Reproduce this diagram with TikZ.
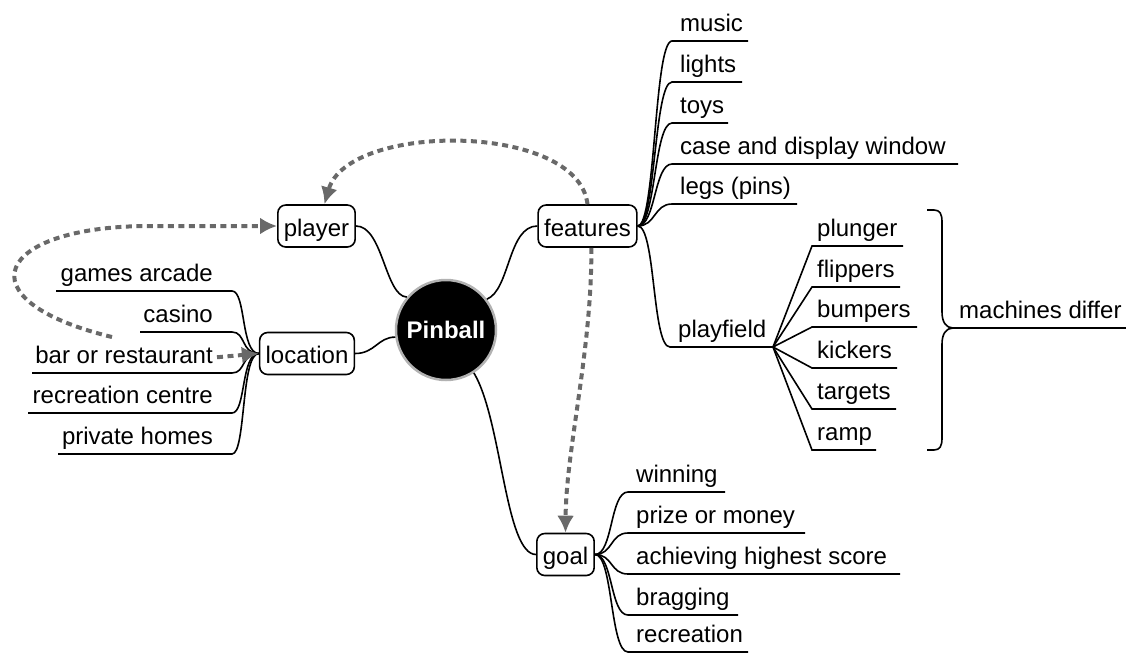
\documentclass[tikz,border=0pt]{standalone}
\usepackage{fontspec}
\setmainfont{Liberation Sans}
\usetikzlibrary{calc,arrows.meta}

\definecolor{linkgray}{RGB}{105,105,105}

\tikzset{
  branch/.style={draw=black, line width=1.6pt},
  topic/.style={draw=black, line width=1.6pt, rounded corners=8pt, fill=white,
    inner xsep=6pt, inner ysep=0pt, text height=20pt, text depth=0pt,
    minimum height=42pt, font=\fontsize{24}{28}\selectfont},
  leaf/.style={inner sep=0pt, text height=17.5pt, text depth=5pt,
    font=\fontsize{24}{28}\selectfont},
  link/.style={draw=linkgray, line width=4pt, dash pattern=on 6pt off 4.5pt,
    -{Latex[length=17pt,width=17pt]}},
}

% right-hand leaf: name, parent point, text, x start, x end, y of underline
\newcommand\rleaf[6]{%
  \coordinate (#1-a) at (#4,#6);
  \coordinate (#1-b) at (#5,#6);
  \node[leaf, anchor=base west] (#1) at ($(#1-a)+(8,-9.5)$) {#3};
  \draw[branch] (#2) .. controls +(18,0) and +(-18,0) .. (#1-a) -- (#1-b);
}
% right-hand leaf joined by a straight spoke
\newcommand\sleaf[6]{%
  \coordinate (#1-a) at (#4,#6);
  \coordinate (#1-b) at (#5,#6);
  \node[leaf, anchor=base west] (#1) at ($(#1-a)+(5,-9.5)$) {#3};
  \draw[branch] (#2) -- (#1-a) -- (#1-b);
}
% left-hand leaf: name, parent point, text, x left, x right, y of underline
\newcommand\lleaf[6]{%
  \coordinate (#1-a) at (#4,#6);
  \coordinate (#1-b) at (#5,#6);
  \node[leaf, anchor=base east] (#1) at ($(#1-b)+(-19,-9.5)$) {#3};
  \draw[branch] (#2) .. controls +(-18,0) and +(14,0) .. (#1-b) -- (#1-a);
}

\begin{document}
\begin{tikzpicture}[x=1pt, y=-1pt]
\useasboundingbox (0,0) rectangle (1126,653);

% central topic
\node[circle, fill=black, draw=gray!60, line width=2.5pt, minimum size=100pt,
  text=white, font=\bfseries\fontsize{24}{28}\selectfont] (pin) at (446,330) {Pinball};

% main topics
\node[topic] (player)   at (316.5,226) {player};
\node[topic] (features) at (587.5,226) {features};
\node[topic] (location) at (307,353.5) {location};
\node[topic] (goal)     at (565.5,554.5) {goal};

\draw[branch] (pin.140) .. controls (385,296) and (383,226) .. (player.east);
\draw[branch] (pin.37) .. controls (510,290) and (508,226) .. (features.west);
\draw[branch] (pin.188) .. controls (378,337) and (375,353.5) .. (location.east);
\draw[branch] (pin.-57) .. controls (502,420) and (505,554.5) .. (goal.west);

% features
\rleaf{music}{features.east}{music}{672}{748}{41}
\rleaf{lights}{features.east}{lights}{672}{742}{82}
\rleaf{toys}{features.east}{toys}{672}{728}{123}
\rleaf{case}{features.east}{case and display window}{672}{958}{164}
\rleaf{legs}{features.east}{legs (pins)}{672}{797}{204}
\rleaf{playfield}{features.east}{playfield}{670}{773}{347}

% playfield parts
\sleaf{plunger}{playfield-b}{plunger}{812}{903}{246}
\sleaf{flippers}{playfield-b}{flippers}{812}{900}{287}
\sleaf{bumpers}{playfield-b}{bumpers}{812}{917}{327}
\sleaf{kickers}{playfield-b}{kickers}{812}{897}{368}
\sleaf{targets}{playfield-b}{targets}{812}{896}{409}
\sleaf{ramp}{playfield-b}{ramp}{812}{876}{450}

% brace gathering the playfield parts
\coordinate (brace-tip) at (953,328);
\coordinate (differ-b) at (1126,328);
\draw[branch] (927,210) -- (934,210) .. controls (940,210) and (942,214) .. (942,222)
  -- (942,312) .. controls (942,322) and (946,328) .. (brace-tip)
  .. controls (946,328) and (942,334) .. (942,344)
  -- (942,438) .. controls (942,446) and (940,450) .. (934,450) -- (927,450);
\node[leaf, anchor=base west] (differ) at ($(brace-tip)+(6,-9.5)$) {machines differ};
\draw[branch] (brace-tip) -- (differ-b);

% location
\lleaf{arcade}{location.west}{games arcade}{56}{232}{291}
\lleaf{casino}{location.west}{casino}{140}{232}{332}
\lleaf{bar}{location.west}{bar or restaurant}{32}{232}{373}
\lleaf{centre}{location.west}{recreation centre}{28}{232}{413}
\lleaf{homes}{location.west}{private homes}{58}{232}{454}

% goal
\rleaf{winning}{goal.east}{winning}{628}{725}{492}
\rleaf{prize}{goal.east}{prize or money}{628}{805}{533}
\rleaf{score}{goal.east}{achieving highest score}{628}{900}{574}
\rleaf{bragging}{goal.east}{bragging}{628}{738}{615}
\rleaf{recreation}{goal.east}{recreation}{628}{748}{652}

% cross links
\draw[link] (features.north) .. controls (578,122) and (348,122) .. (player.70);
\coordinate (loopstart) at (112,337);
\draw[link] (loopstart) .. controls (-40,300) and (-5,226) .. (150,226) -- (player.west);
\draw[link] (features.-80) .. controls (592,350) and (566,450) .. (goal.north);
\draw[link] (bar.east) ++(4,0) -- (location.west);
\end{tikzpicture}
\end{document}
